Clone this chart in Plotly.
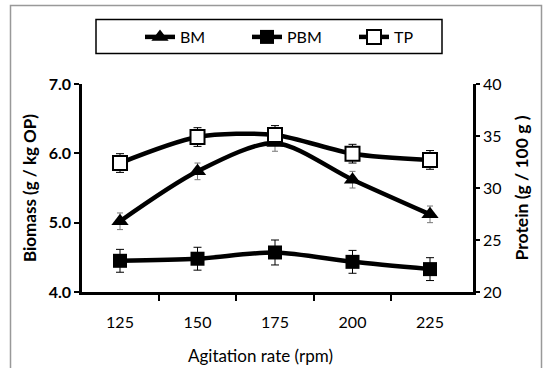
import plotly.graph_objects as go

# ---- data ----
agitation = [125, 150, 175, 200, 225]
bm = [5.02, 5.74, 6.15, 5.62, 5.12]          # Biomass (g / kg OP), left axis
bm_err = [0.12, 0.12, 0.12, 0.12, 0.12]
pbm = [23.0, 23.2, 23.8, 22.9, 22.2]         # right axis
pbm_err = [1.1, 1.1, 1.2, 1.1, 1.1]
tp = [32.4, 34.9, 35.1, 33.3, 32.7]          # Protein (g / 100 g), right axis
tp_err = [0.9, 0.9, 0.9, 0.9, 0.9]
x_ticks = [125, 150, 175, 200, 225]
x_minor = [137.5, 162.5, 187.5, 212.5]
left_ticks = [4.0, 5.0, 6.0, 7.0]
right_ticks = [20, 25, 30, 35, 40]

FONT = "Lato, Open Sans, sans-serif"

# plot area in px
L, R, T, B = 82, 473, 84, 292
W, H = 545, 368

def px2paper_x(px):
    return (px - L) / (R - L)

def px2paper_y(py):
    return (B - py) / (B - T)

fig = go.Figure()

fig.add_trace(go.Scatter(
    x=agitation, y=bm, name="BM", mode="lines+markers",
    line=dict(color="black", width=4.5, shape="spline", smoothing=0.8),
    marker=dict(symbol="triangle-up", size=15, color="black"),
    error_y=dict(type="data", array=bm_err, color="#777", thickness=1, width=3),
    yaxis="y",
))
fig.add_trace(go.Scatter(
    x=agitation, y=pbm, name="PBM", mode="lines+markers",
    line=dict(color="black", width=4.5, shape="spline", smoothing=0.8),
    marker=dict(symbol="square", size=14, color="black"),
    error_y=dict(type="data", array=pbm_err, color="black", thickness=1, width=4),
    yaxis="y2",
))
fig.add_trace(go.Scatter(
    x=agitation, y=tp, name="TP", mode="lines+markers",
    line=dict(color="black", width=4.5, shape="spline", smoothing=0.8),
    marker=dict(symbol="square", size=14, color="white", line=dict(color="black", width=2)),
    error_y=dict(type="data", array=tp_err, color="black", thickness=1, width=4),
    yaxis="y2",
))

fig.update_layout(
    width=W, height=H,
    margin=dict(l=L, r=W - R, t=T, b=H - B, pad=0),
    paper_bgcolor="white", plot_bgcolor="white",
    font=dict(family=FONT, color="black", size=15),
    showlegend=True,
    legend=dict(
        orientation="h", x=px2paper_x(140), xanchor="left",
        y=px2paper_y(37), yanchor="middle",
        bgcolor="rgba(0,0,0,0)", borderwidth=0,
        font=dict(size=16, family=FONT), entrywidth=62, itemwidth=30,
    ),
    xaxis=dict(
        range=[112.74, 238.87], tickvals=x_ticks, ticktext=[str(v) for v in x_ticks],
        ticks="", showgrid=False, zeroline=False,
        showline=True, linecolor="black", linewidth=2.5,
        tickfont=dict(size=16), ticklabelstandoff=14,
        minor=dict(tickvals=x_minor, ticks="outside", ticklen=6, tickwidth=2, tickcolor="black"),
    ),
    yaxis=dict(
        range=[4, 7], tickvals=left_ticks, ticktext=["<b>4.0</b>", "<b>5.0</b>", "<b>6.0</b>", "<b>7.0</b>"],
        ticks="outside", ticklen=5, tickwidth=2, tickcolor="black",
        showgrid=False, zeroline=False,
        showline=True, linecolor="black", linewidth=2.5,
        tickfont=dict(size=16),
        title=dict(text="<b>Biomass (g / kg OP)</b>", font=dict(size=17), standoff=8),
    ),
    yaxis2=dict(
        range=[20, 40], tickvals=right_ticks, overlaying="y", side="right",
        ticks="outside", ticklen=4, tickwidth=2, tickcolor="black",
        showgrid=False, zeroline=False,
        showline=True, linecolor="black", linewidth=2.5,
        tickfont=dict(size=16),
        title=dict(text="<b>Protein (g / 100 g )</b>", font=dict(size=17.5), standoff=16),
    ),
    annotations=[
        dict(text="Agitation rate (rpm)", xref="paper", yref="paper",
             x=px2paper_x(260), y=px2paper_y(355), xanchor="center", yanchor="middle",
             showarrow=False, font=dict(size=17)),
    ],
    shapes=[
        # legend box
        dict(type="rect", xref="paper", yref="paper",
             x0=px2paper_x(96), x1=px2paper_x(442), y0=px2paper_y(53.5), y1=px2paper_y(19.5),
             line=dict(color="black", width=1.5), fillcolor="rgba(0,0,0,0)"),
        # outer frame
        dict(type="rect", xref="paper", yref="paper",
             x0=px2paper_x(10.5), x1=px2paper_x(541.5), y0=px2paper_y(380), y1=px2paper_y(5.5),
             line=dict(color="#999", width=1.5), fillcolor="rgba(0,0,0,0)", layer="below"),
    ],
)

fig.write_html("out.html")
